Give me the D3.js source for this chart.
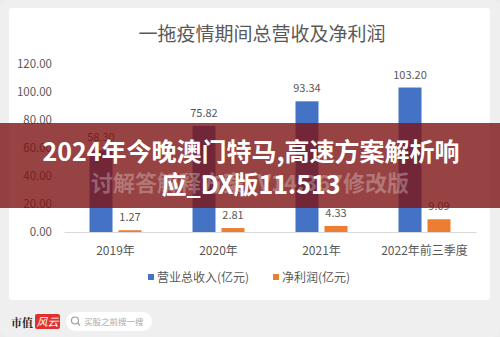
<!DOCTYPE html>
<html>
<head>
<meta charset="utf-8">
<script src="https://cdn.jsdelivr.net/npm/d3@7"></script>
<style>
  html, body { margin: 0; padding: 0; background: #ececec; }
  svg { display: block; }
</style>
</head>
<body>
<svg id="chart" width="500" height="337"></svg>
<script>
// Yituo revenue and net profit during the pandemic years
const categories = ["2019年", "2020年", "2021年", "2022年前三季度"];
const revenue = [58.30, 75.82, 93.34, 103.20];   // 营业总收入(亿元)
const profit = [1.27, 2.81, 4.33, 9.09];         // 净利润(亿元)
const yTicks = [0, 20, 40, 60, 80, 100, 120];
const seriesNames = ["营业总收入(亿元)", "净利润(亿元)"];
const seriesColors = ["#4472C4", "#ED7D31"];
const titleText = "一拖疫情期间总营收及净利润";
const bannerLine1 = "2024年今晚澳门特马,高速方案解析响";
const bannerLine2 = "应_DX版11.513";
const bannerShadow = "讨解答解释方案_V14.367修改版";

const FONT = "'Noto Sans CJK SC', 'Noto Sans', sans-serif";
const svg = d3.select("#chart");

// page background and footer strip
svg.append("rect").attr("x", 0).attr("y", 0).attr("width", 500).attr("height", 337)
  .attr("rx", 8).attr("fill", "#efefef");

// white chart card
svg.append("rect").attr("x", 9).attr("y", 8).attr("width", 481).attr("height", 292)
  .attr("rx", 3).attr("fill", "#ffffff");

// faint diagonal brand marks
const marks = [[60, 70], [230, 60], [420, 60], [140, 200], [330, 150], [452, 215], [60, 290], [250, 290], [430, 290]];
svg.append("g").selectAll("text").data(marks).join("text")
  .attr("transform", d => `translate(${d[0]},${d[1]}) rotate(-40)`)
  .attr("text-anchor", "middle")
  .attr("font-family", FONT).attr("font-size", 26)
  .attr("fill", "rgba(0,0,0,0.018)")
  .text("市值风云");

// title
svg.append("text").attr("x", 262).attr("y", 41).attr("text-anchor", "middle")
  .attr("font-family", FONT).attr("font-size", 19).attr("fill", "#595959")
  .text(titleText);

// scales
const x = d3.scaleBand().domain(categories).range([64, 476]).padding(0);
const y = d3.scaleLinear().domain([0, 120]).range([232, 64]);
const barW = 23, gap = 3;
const inner = d3.scaleOrdinal().domain([0, 1]).range([-gap - barW, gap]);

// y axis labels only
const yAxis = d3.axisLeft(y).tickValues(yTicks).tickFormat(d3.format(".2f")).tickSize(0).tickPadding(0);
const gy = svg.append("g").attr("transform", "translate(52,0)").call(yAxis);
gy.select(".domain").remove();
gy.selectAll("text").attr("font-family", FONT).attr("font-size", 11.5).attr("fill", "#595959");

// bars
const series = [revenue, profit];
series.forEach((vals, si) => {
  const g = svg.append("g");
  g.selectAll("rect").data(vals).join("rect")
    .attr("x", (d, i) => x(categories[i]) + x.bandwidth() / 2 + inner(si))
    .attr("y", d => y(d))
    .attr("width", barW)
    .attr("height", d => y(0) - y(d))
    .attr("fill", seriesColors[si]);
  g.selectAll("text").data(vals).join("text")
    .attr("x", (d, i) => x(categories[i]) + x.bandwidth() / 2 + inner(si) + barW / 2)
    .attr("y", d => y(d) - 9)
    .attr("text-anchor", "middle")
    .attr("font-family", FONT).attr("font-size", 11).attr("fill", "#595959")
    .text(d => d3.format(".2f")(d));
});

// baseline + category labels
const xAxis = d3.axisBottom(x).tickSize(0).tickPadding(14);
const gx = svg.append("g").attr("transform", `translate(0,${y(0)})`).call(xAxis);
gx.select(".domain").attr("stroke", "#d9d9d9");
gx.selectAll("text").attr("font-family", FONT).attr("font-size", 12).attr("fill", "#595959");

// legend
const legendX = [148, 273];
const lg = svg.append("g");
seriesNames.forEach((name, i) => {
  lg.append("rect").attr("x", legendX[i]).attr("y", 274).attr("width", 6).attr("height", 6)
    .attr("fill", seriesColors[i]);
  lg.append("text").attr("x", legendX[i] + 9).attr("y", 282)
    .attr("font-family", FONT).attr("font-size", 12).attr("fill", "#595959")
    .text(name);
});

// overlay banner
svg.append("rect").attr("x", 0).attr("y", 123).attr("width", 500).attr("height", 85)
  .attr("fill", "rgb(125,20,20)").attr("opacity", 0.8);
svg.append("text").attr("x", 250).attr("y", 191).attr("text-anchor", "middle")
  .attr("font-family", FONT).attr("font-weight", 700).attr("font-size", 22)
  .attr("fill", "rgba(255,255,255,0.28)")
  .text(bannerShadow);
svg.append("text").attr("x", 251).attr("y", 161).attr("text-anchor", "middle")
  .attr("font-family", FONT).attr("font-weight", 700).attr("font-size", 25)
  .attr("fill", "#ffffff")
  .text(bannerLine1);
svg.append("text").attr("x", 251).attr("y", 194).attr("text-anchor", "middle")
  .attr("font-family", FONT).attr("font-weight", 700).attr("font-size", 25)
  .attr("fill", "#ffffff")
  .text(bannerLine2);

// footer brand
const ft = svg.append("g");
ft.append("text").attr("x", 11).attr("y", 327)
  .attr("font-family", "'Noto Serif CJK SC', 'Noto Sans CJK SC', serif").attr("font-weight", 700)
  .attr("font-size", 11).attr("fill", "#222").text("市值");
ft.append("rect").attr("x", 35).attr("y", 314).attr("width", 25).attr("height", 15).attr("rx", 2)
  .attr("fill", "#e03030");
ft.append("text").attr("x", 47.5).attr("y", 326).attr("text-anchor", "middle")
  .attr("font-family", FONT).attr("font-style", "italic").attr("font-size", 11)
  .attr("fill", "#ffffff").text("风云");
ft.append("rect").attr("x", 66).attr("y", 312).attr("width", 86).attr("height", 19).attr("rx", 9.5)
  .attr("fill", "#ffffff");
ft.append("circle").attr("cx", 75).attr("cy", 320.5).attr("r", 3.5)
  .attr("fill", "none").attr("stroke", "#999").attr("stroke-width", 1.1);
ft.append("line").attr("x1", 77.5).attr("y1", 323).attr("x2", 80).attr("y2", 325.5)
  .attr("stroke", "#999").attr("stroke-width", 1.1);
ft.append("text").attr("x", 84).attr("y", 324.5)
  .attr("font-family", FONT).attr("font-size", 8.5).attr("fill", "#aaa").text("买股之前搜一搜");
</script>
</body>
</html>
